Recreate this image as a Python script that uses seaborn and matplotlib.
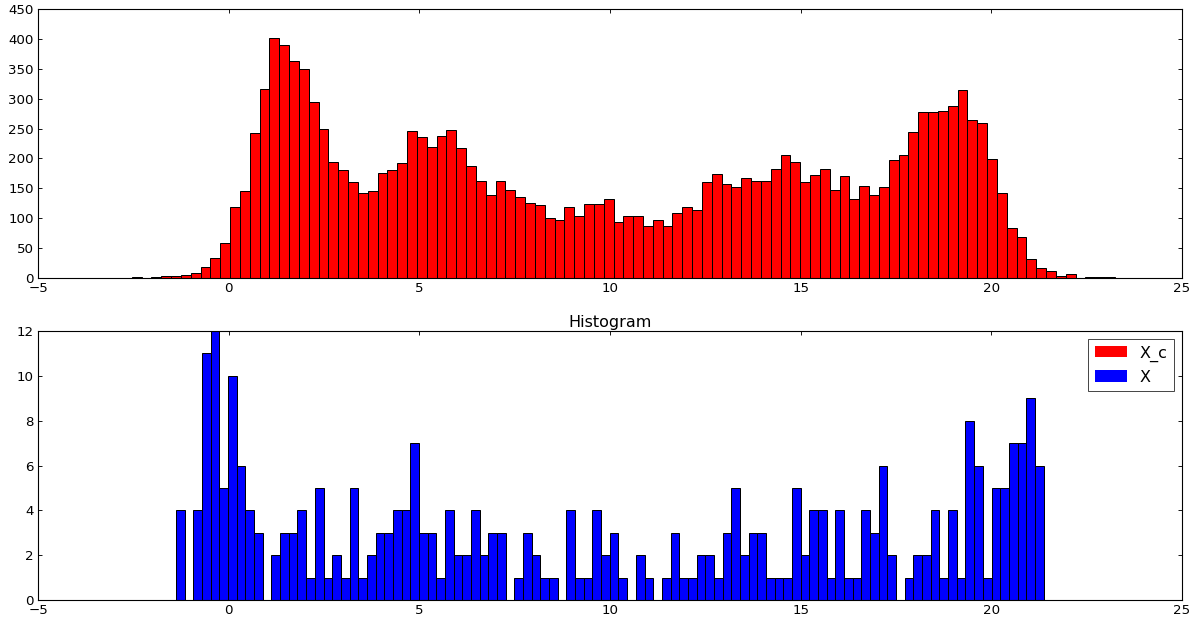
import numpy as np
import pandas as pd
import matplotlib
matplotlib.use("Agg")
import matplotlib.pyplot as plt
import matplotlib.patches as mpatches
import seaborn as sns

# Bin counts of the two samples (100 equal-width bins each)
x_c_counts = [
    2, 0, 1, 3, 3, 5, 8, 19, 33, 58,
    118, 145, 242, 317, 401, 389, 363, 349, 294, 250,
    194, 181, 161, 142, 145, 176, 180, 193, 246, 236,
    220, 238, 248, 218, 188, 163, 139, 163, 148, 136,
    126, 122, 101, 97, 118, 103, 123, 123, 132, 94,
    104, 103, 87, 97, 87, 108, 118, 114, 161, 174,
    157, 152, 167, 162, 163, 182, 206, 194, 160, 172,
    182, 148, 170, 133, 154, 139, 153, 198, 205, 244,
    278, 278, 279, 287, 315, 264, 260, 199, 142, 83,
    68, 32, 16, 12, 3, 6, 0, 2, 1, 1,
]
x_c_range = (-2.54, 23.24)

x_counts = [
    4, 0, 4, 11, 12, 5, 10, 6, 4, 3,
    0, 2, 3, 3, 4, 1, 5, 1, 2, 1,
    5, 1, 2, 3, 3, 4, 4, 7, 3, 3,
    1, 4, 2, 2, 4, 2, 3, 3, 0, 1,
    3, 2, 1, 1, 0, 4, 1, 1, 4, 2,
    3, 1, 0, 2, 1, 0, 1, 3, 1, 1,
    2, 2, 1, 3, 5, 2, 3, 3, 1, 1,
    1, 5, 2, 4, 4, 1, 4, 1, 1, 4,
    3, 6, 2, 0, 1, 2, 2, 4, 1, 4,
    1, 8, 6, 1, 5, 5, 7, 7, 9, 6,
]
x_range = (-1.38, 21.37)

series_labels = ["X_c", "X"]
series_colors = ["red", "blue"]

x_ticks = [-5, 0, 5, 10, 15, 20, 25]
top_yticks = list(range(0, 451, 50))
bottom_yticks = list(range(0, 13, 2))


def binned_frame(counts, value_range):
    edges = np.linspace(value_range[0], value_range[1], len(counts) + 1)
    centers = (edges[:-1] + edges[1:]) / 2
    return pd.DataFrame({"value": centers, "count": np.asarray(counts, float)})


sns.set_style("ticks")
plt.rcParams["font.family"] = ["DejaVu Sans"]
plt.rcParams["font.size"] = 12
plt.rcParams["text.color"] = "black"

DPI = 80
fig = plt.figure(figsize=(1199 / DPI, 621 / DPI), dpi=DPI, facecolor="white")
ax1 = fig.add_axes([0.0317, 0.5523, 0.9541, 0.4332])
ax2 = fig.add_axes([0.0317, 0.0338, 0.9541, 0.4332])

for ax, counts, rng, color in [
    (ax1, x_c_counts, x_c_range, series_colors[0]),
    (ax2, x_counts, x_range, series_colors[1]),
]:
    df = binned_frame(counts, rng)
    sns.histplot(data=df, x="value", weights="count", bins=len(counts),
                 binrange=rng, ax=ax, color=color, edgecolor="black",
                 linewidth=0.9, alpha=1.0)
    ax.set_xlim(-5, 25)
    ax.set_xticks(x_ticks)
    ax.set_xlabel("")
    ax.set_ylabel("")
    ax.tick_params(direction="in", top=True, right=True, length=4, pad=4,
                   labelsize=12, width=0.8, colors="black",
                   labelcolor="black")
    for s in ax.spines.values():
        s.set_visible(True)
        s.set_color("black")
        s.set_linewidth(1.0)

ax1.set_ylim(0, 450)
ax1.set_yticks(top_yticks)
ax2.set_ylim(0, 12)
ax2.set_yticks(bottom_yticks)
ax2.set_title("Histogram", fontsize=14.4, pad=4, color="black")

handles = [mpatches.Patch(facecolor=c, edgecolor="none") for c in series_colors]
leg = ax2.legend(handles, series_labels, loc="upper right", fontsize=14.4,
                 fancybox=False, frameon=True, handlelength=2.0,
                 handletextpad=0.8, borderpad=0.4, labelspacing=0.5,
                 borderaxespad=0.5, labelcolor="black")
leg.get_frame().set_edgecolor("black")
leg.get_frame().set_linewidth(0.8)

fig.savefig("out.png", dpi=DPI, facecolor="white")
